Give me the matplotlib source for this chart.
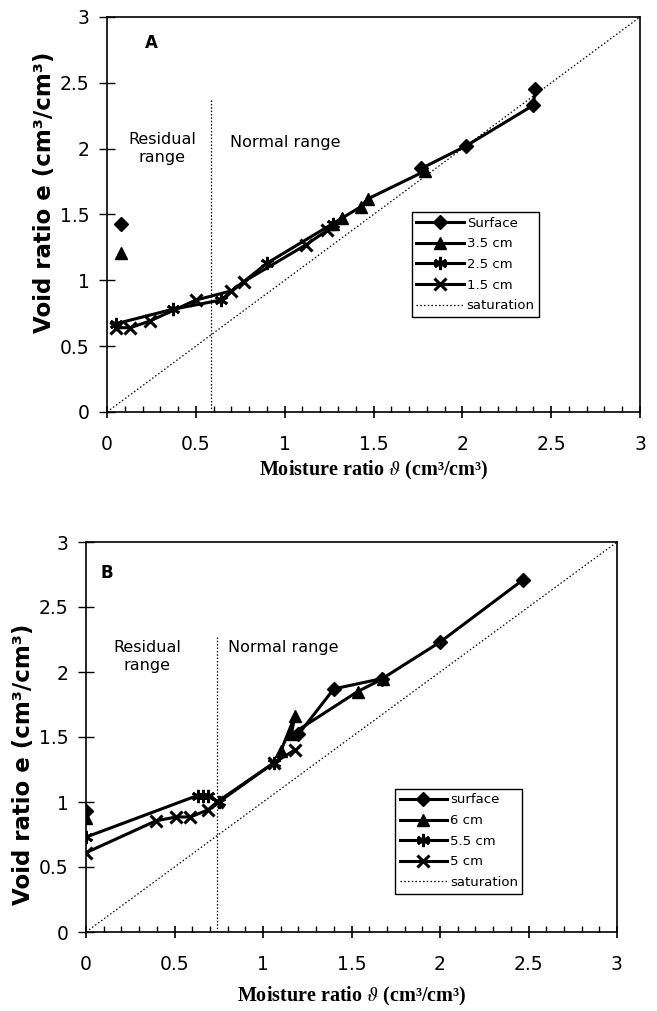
import numpy as np
import matplotlib
matplotlib.use("Agg")
import matplotlib.pyplot as plt

plt.rcParams["mathtext.fontset"] = "stix"

nan = np.nan

# ---------------- Panel A data ----------------
a_surface_x = [0.08, nan, 1.77, 2.02, 2.40, 2.41]
a_surface_y = [1.43, nan, 1.85, 2.02, 2.33, 2.45]
a_35_x = [0.08, nan, 1.27, 1.32, 1.43, 1.47, 1.79]
a_35_y = [1.21, nan, 1.43, 1.47, 1.56, 1.62, 1.83]
a_25_x = [0.05, 0.37, 0.64, 0.90, 1.27]
a_25_y = [0.67, 0.78, 0.85, 1.13, 1.43]
a_15_x = [0.05, 0.13, 0.24, 0.50, 0.70, 0.77, 1.12, 1.24]
a_15_y = [0.64, 0.64, 0.69, 0.85, 0.92, 0.99, 1.27, 1.38]
a_residual_limit = 0.585
a_residual_top = 2.38

# ---------------- Panel B data ----------------
b_surface_x = [0.0, nan, 1.20, 1.40, 1.675, 2.00, 2.47]
b_surface_y = [0.93, nan, 1.52, 1.87, 1.95, 2.23, 2.71]
b_6_x = [0.0, nan, 1.10, 1.18, 1.16, 1.535, 1.68]
b_6_y = [0.88, nan, 1.39, 1.66, 1.52, 1.85, 1.95]
b_55_x = [0.0, 0.63, 0.66, 0.69, 0.75, 1.06]
b_55_y = [0.73, 1.05, 1.05, 1.05, 1.00, 1.30]
b_5_x = [0.0, 0.395, 0.51, 0.59, 0.69, 0.74, 1.06, 1.18]
b_5_y = [0.61, 0.855, 0.885, 0.885, 0.94, 1.00, 1.30, 1.40]
b_residual_limit = 0.74
b_residual_top = 2.27

sat = [0, 3]
ticks = [0, 0.5, 1, 1.5, 2, 2.5, 3]
tick_labels = ["0", "0.5", "1", "1.5", "2", "2.5", "3"]

labels_a = ["Surface", "3.5 cm", "2.5 cm", "1.5 cm", "saturation"]
labels_b = ["surface", "6 cm", "5.5 cm", "5 cm", "saturation"]

SANS = ["DejaVu Sans"]
SERIF = ["Liberation Serif", "DejaVu Serif"]

W, H = 657, 1011
fig = plt.figure(figsize=(W / 100, H / 100), dpi=100)

star = (6, 2, 0)
styles = [
    dict(marker="D", ms=7, mew=1.0),
    dict(marker="^", ms=8.5, mew=1.0),
    dict(marker=star, ms=9.5, mew=2.0),
    dict(marker="x", ms=8, mew=2.2),
]


def panel(rect, series, labels, limit, top, letter, letter_xy, res_xy, norm_xy,
          leg_anchor, ylab_y, xlab_y):
    ax = fig.add_axes(rect)
    ax.set_xlim(0, 3)
    ax.set_ylim(0, 3)
    ax.plot(sat, sat, color="black", lw=0.9, ls=(0, (1.2, 1.8)), zorder=1,
            clip_on=False, label="_sat")
    ax.plot([limit, limit], [0, top], color="black", lw=0.9,
            ls=(0, (1.2, 1.5)), zorder=1)
    handles = []
    for (xs, ys), st, lab in zip(series, styles, labels[:4]):
        h, = ax.plot(xs, ys, color="black", lw=2.2, mfc="black", mec="black",
                     label=lab, zorder=3, **st)
        handles.append(h)
    hs, = ax.plot([], [], color="black", lw=0.9, ls=(0, (1.2, 1.8)),
                  label=labels[4])
    handles.append(hs)

    ax.set_xticks(ticks)
    ax.set_xticklabels(tick_labels)
    ax.set_yticks(ticks)
    ax.set_yticklabels(tick_labels)
    ax.set_xticks(np.arange(0, 3.01, 0.1), minor=True)
    ax.tick_params(axis="x", which="major", direction="inout", length=9,
                   width=1.2, pad=12, labelsize=13.5)
    ax.tick_params(axis="x", which="minor", direction="in", length=4,
                   width=1.0)
    ax.tick_params(axis="y", which="major", direction="inout", length=11,
                   width=1.0, pad=7, labelsize=13.5)
    for lab in ax.get_xticklabels() + ax.get_yticklabels():
        lab.set_family(SANS)
    for sp in ax.spines.values():
        sp.set_linewidth(1.2)
        sp.set_color("black")

    ax.set_xlabel("Moisture ratio $\\vartheta$ (cm\u00b3/cm\u00b3)",
                  family=SERIF, fontweight="bold", fontsize=14.5)
    ax.xaxis.set_label_coords(0.5, xlab_y)
    ax.set_ylabel("Void ratio e (cm\u00b3/cm\u00b3)", family=SANS,
                  fontweight="bold", fontsize=16.5)
    ax.yaxis.set_label_coords(-0.096, ylab_y)

    ax.text(letter_xy[0], letter_xy[1], letter, family=SANS,
            fontweight="bold", fontsize=12, ha="center", va="center")
    ax.text(res_xy[0], res_xy[1], "Residual\nrange", family=SANS,
            fontsize=11.5, ha="center", va="center", linespacing=1.3)
    ax.text(norm_xy[0], norm_xy[1], "Normal range", family=SANS,
            fontsize=11.5, ha="left", va="center")

    leg = ax.legend(handles=handles, loc="upper left",
                    bbox_to_anchor=leg_anchor, frameon=True, fancybox=False,
                    edgecolor="black", framealpha=1, borderaxespad=0,
                    prop=dict(family=SANS, size=9.5), handlelength=3.6,
                    handletextpad=0.2, labelspacing=0.58, borderpad=0.35)
    leg.get_frame().set_linewidth(1.0)
    return ax


# Panel A axes (pixel geometry of the reference)
rect_a = [107 / W, 1 - 412 / H, (640 - 107) / W, (412 - 17) / H]
panel(rect_a,
      [(a_surface_x, a_surface_y), (a_35_x, a_35_y), (a_25_x, a_25_y),
       (a_15_x, a_15_y)],
      labels_a, a_residual_limit, a_residual_top, "A", (0.25, 2.80),
      (0.31, 2.0), (0.69, 2.05), (0.572, 0.506), 0.557, -0.12)

rect_b = [86 / W, 1 - 932 / H, (617 - 86) / W, (932 - 542) / H]
panel(rect_b,
      [(b_surface_x, b_surface_y), (b_6_x, b_6_y), (b_55_x, b_55_y),
       (b_5_x, b_5_y)],
      labels_b, b_residual_limit, b_residual_top, "B", (0.12, 2.76),
      (0.345, 2.12), (0.80, 2.19), (0.582, 0.367), 0.43, -0.135)

fig.savefig("out.png", dpi=100)
